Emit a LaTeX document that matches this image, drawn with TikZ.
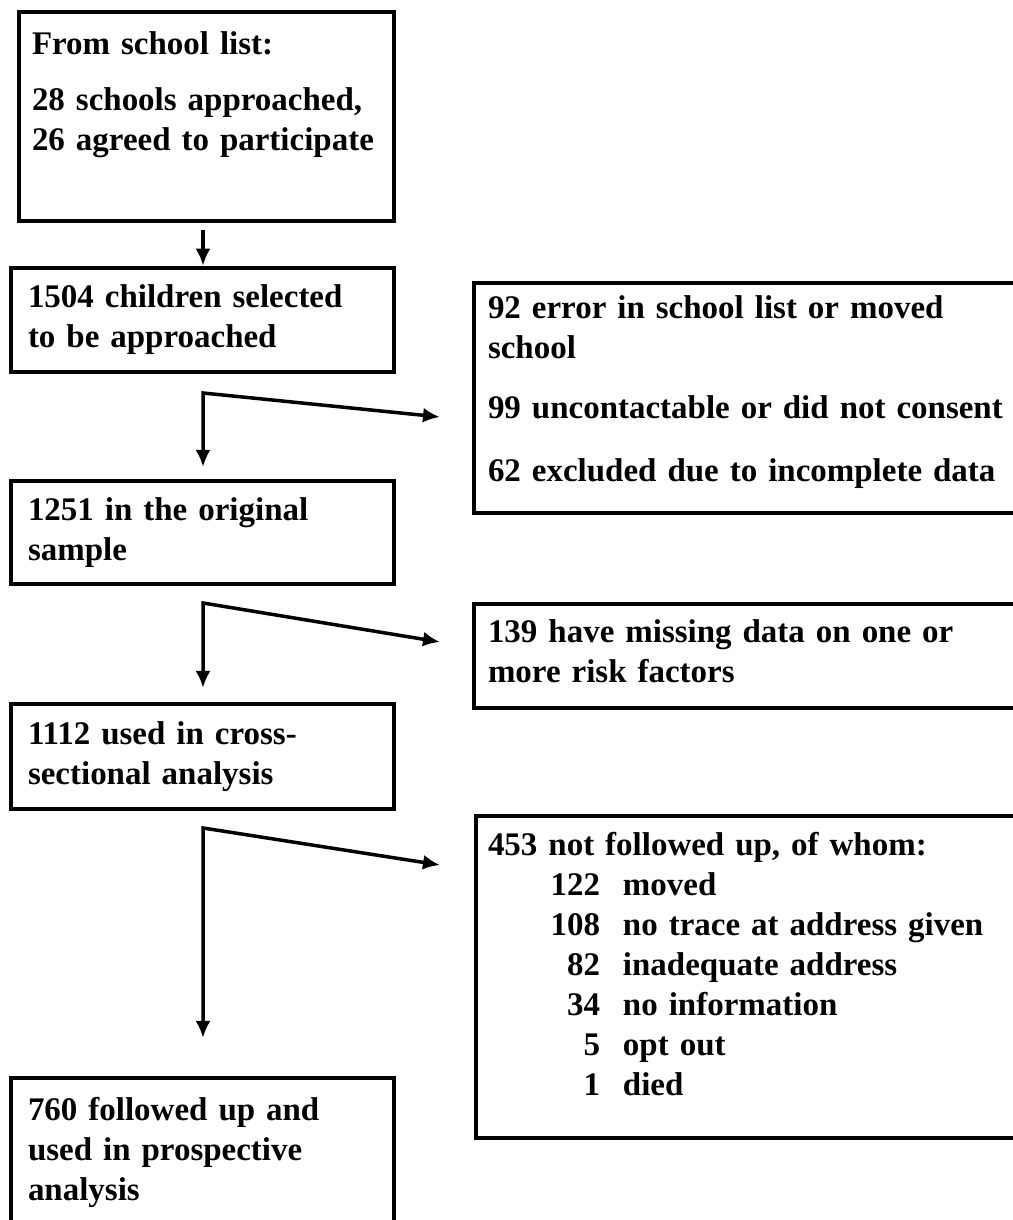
\documentclass[tikz,border=0pt]{standalone}
\usepackage{fontspec}
\setmainfont{Liberation Serif}
\usetikzlibrary{arrows.meta}
\begin{document}
\begin{tikzpicture}[>={Latex[length=17bp,width=15bp]},
  flowbox/.style={draw=black,line width=4.5bp,inner ysep=0pt,align=left,
    font=\bfseries\fontsize{33.1}{40.2}\selectfont},
  leftbox/.style={flowbox,inner xsep=17bp,text width=349bp,minimum width=383bp},
  rightbox/.style={flowbox,inner xsep=14bp,text width=528bp,minimum width=556bp},
  flowline/.style={black,line width=3.5bp}]
%%
\useasboundingbox (0bp,0bp) rectangle (1013bp,1220bp);
\clip (0bp,0bp) rectangle (1013bp,1220bp);
%
\node (node_0) at (206.5bp,1103.5bp) [flowbox,inner xsep=13bp,text width=349bp,minimum width=375bp,minimum height=209bp] {From school list:\\[16bp]28 schools approached,\\26 agreed to participate\\[10bp]\mbox{}};
  \node (node_1) at (202.5bp,900bp) [leftbox,minimum height=104bp] {1504 children selected\\to be approached};
  \node (node_2) at (202.5bp,687.5bp) [leftbox,minimum height=103bp] {1251 in the original\\sample};
  \node (node_3) at (202.5bp,463.5bp) [leftbox,minimum height=105bp] {1112 used in cross-\\sectional analysis};
  \node (node_4) at (202.5bp,68bp) [leftbox,minimum height=148bp] {760 followed up and\\used in prospective\\analysis\rule[-7bp]{0pt}{7bp}};
  \node (node_5) at (752bp,822bp) [rightbox,minimum height=230bp] {92 error in school list or moved\\school\\[20bp]99 uncontactable or did not consent\\[22bp]62 excluded due to incomplete data\rule[-19bp]{0pt}{19bp}};
  \node (node_6) at (752bp,564bp) [rightbox,minimum height=104bp] {139 have missing data on one or\\more risk factors\rule[-10bp]{0pt}{10bp}};
  \node (node_7) at (746.5bp,243bp) [rightbox,inner xsep=12bp,text width=517bp,minimum width=541bp,minimum height=322bp] {453 not followed up, of whom:\\
    \makebox[112bp][r]{122}\hspace{23bp}moved\\
    \makebox[112bp][r]{108}\hspace{23bp}no trace at address given\\
    \makebox[112bp][r]{82}\hspace{23bp}inadequate address\\
    \makebox[112bp][r]{34}\hspace{23bp}no information\\
    \makebox[112bp][r]{5}\hspace{23bp}opt out\\
    \makebox[112bp][r]{1}\hspace{23bp}died\rule[-26bp]{0pt}{26bp}};
%
\coordinate (split_0) at (203bp,990bp);
  \draw [flowline,->] (split_0) -- (split_0 |- node_1.north);
\coordinate (split_1) at (203bp,827bp);
  \coordinate (down_1) at (203bp,753bp);
  \coordinate (side_1) at (440bp,803bp);
  \draw [flowline,<->] (down_1) -- (split_1) -- (side_1);
\coordinate (split_2) at (203bp,617bp);
  \coordinate (down_2) at (203bp,532bp);
  \coordinate (side_2) at (440bp,578bp);
  \draw [flowline,<->] (down_2) -- (split_2) -- (side_2);
\coordinate (split_3) at (203bp,392bp);
  \coordinate (down_3) at (203bp,182bp);
  \coordinate (side_3) at (440bp,355bp);
  \draw [flowline,<->] (down_3) -- (split_3) -- (side_3);
%
\end{tikzpicture}
\end{document}
